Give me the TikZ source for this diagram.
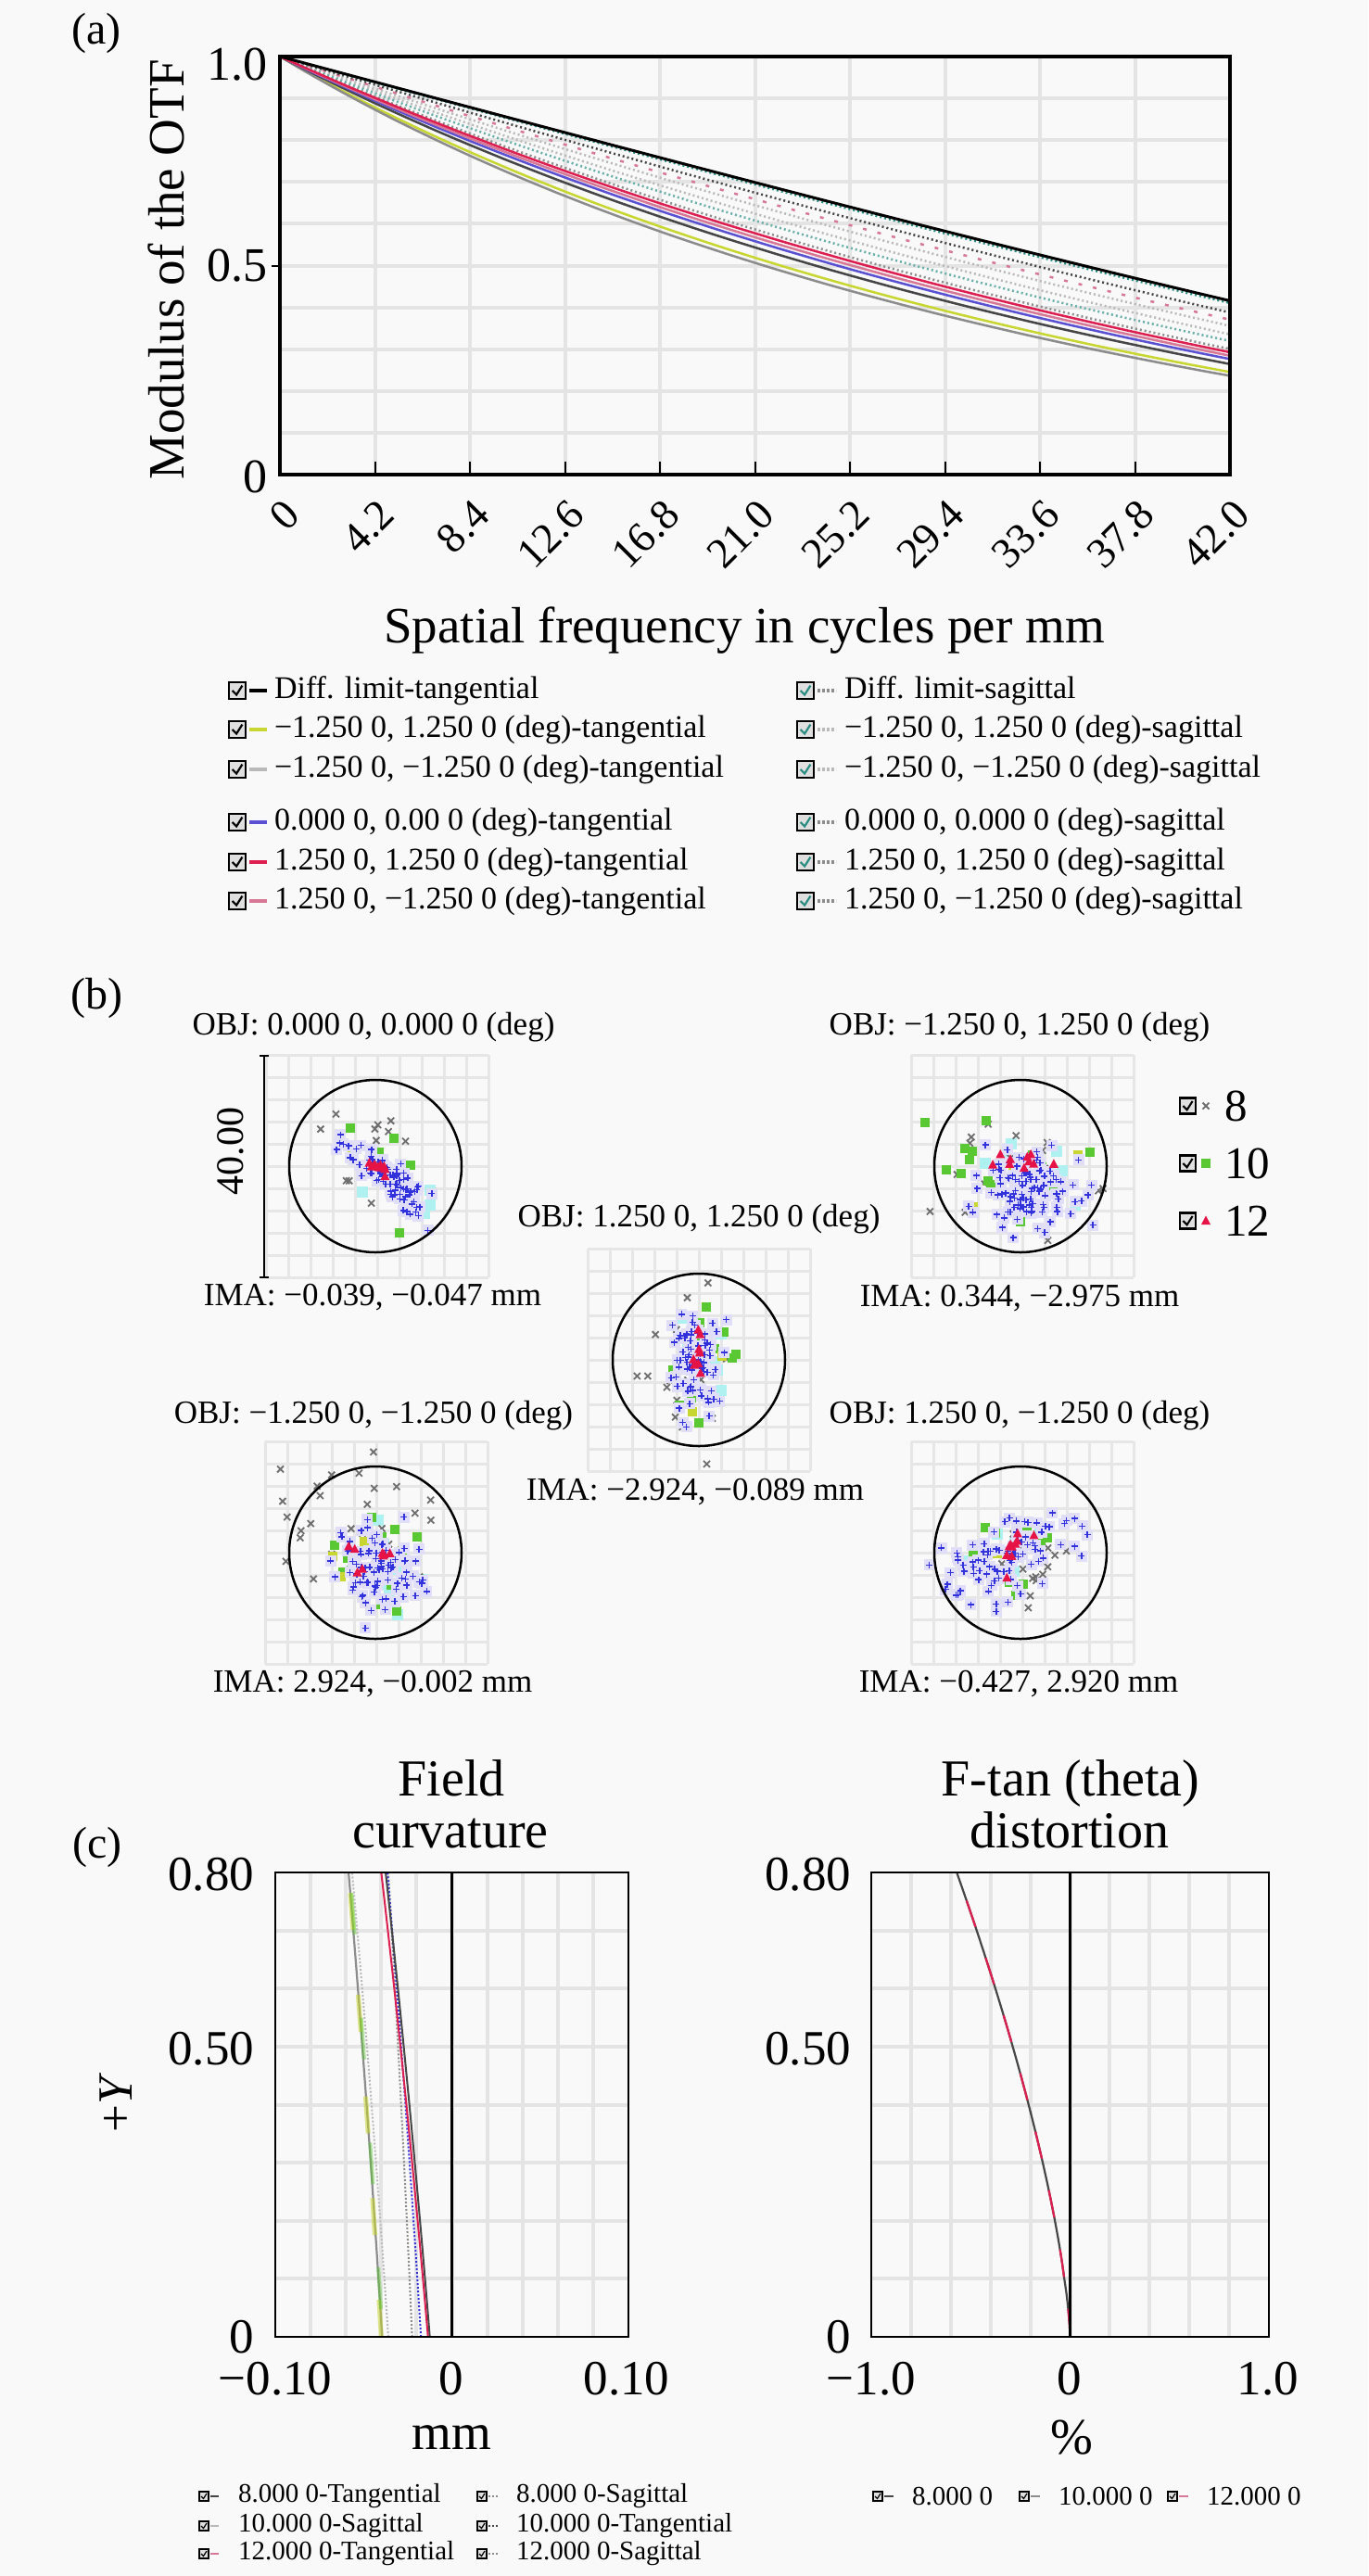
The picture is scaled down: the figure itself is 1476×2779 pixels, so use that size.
\documentclass[tikz,border=0pt]{standalone}
\usepackage{fontspec}
\setmainfont{Liberation Serif}
\usetikzlibrary{calc}
\definecolor{bgc}{RGB}{249,249,249}
\definecolor{gridc}{RGB}{228,228,228}
\definecolor{sgridc}{RGB}{230,230,230}
\definecolor{ylw}{RGB}{200,214,50}
\definecolor{mred}{RGB}{220,30,80}
\definecolor{mpink}{RGB}{215,120,150}
\definecolor{mblue}{RGB}{90,80,210}
\definecolor{mteal}{RGB}{40,140,130}
\definecolor{mgray}{RGB}{140,140,140}
\definecolor{lgray}{RGB}{185,185,185}
\definecolor{dgray}{RGB}{70,70,70}
\definecolor{sblue}{RGB}{50,50,220}
\definecolor{sgreen}{RGB}{90,200,50}
\definecolor{sred}{RGB}{230,20,70}
\definecolor{sgray}{RGB}{110,110,110}
\definecolor{scyan}{RGB}{175,240,240}
\definecolor{slav}{RGB}{225,222,250}
% spot markers
\newcommand\mkx[2]{\draw[sgray,line width=1.8pt] ({#1-3.5},{#2-3.5}) -- ({#1+3.5},{#2+3.5}) ({#1-3.5},{#2+3.5}) -- ({#1+3.5},{#2-3.5});}
\newcommand\mkp[2]{\draw[sblue,line width=1.4pt] ({#1-3.5},{#2}) -- ({#1+3.5},{#2}) ({#1},{#2-3.5}) -- ({#1},{#2+3.5});}
\newcommand\mklv[2]{\fill[slav] ({#1-6},{#2-6}) rectangle ({#1+6},{#2+6});}
\newcommand\mksq[2]{\fill[sgreen] ({#1-5},{#2-5}) rectangle ({#1+5},{#2+5});}
\newcommand\mkcy[2]{\fill[scyan] ({#1-6},{#2-6}) rectangle ({#1+6},{#2+6});}
\newcommand\mkyl[2]{\fill[ylw] ({#1-5},{#2-5}) rectangle ({#1+5},{#2+5});}
\newcommand\mktr[2]{\fill[sred] ({#1},{#2-5.5}) -- ({#1+5},{#2+4}) -- ({#1-5},{#2+4}) -- cycle;}
\newcommand\cloud[8]{%
  \pgfmathsetseed{#8}%
  \foreach \k in {1,...,#3}{%
    \pgfmathsetmacro\ua{(rand+rand+rand)/3*#4}%
    \pgfmathsetmacro\ub{(rand+rand+rand)/3*#5}%
    \pgfmathsetmacro\px{#1+\ua*cos(#6)-\ub*sin(#6)}%
    \pgfmathsetmacro\py{#2+\ua*sin(#6)+\ub*cos(#6)}%
    #7{\px}{\py}%
  }}
% blue cloud with lavender halo
\newcommand\bcloud[7]{\cloud{#1}{#2}{#3}{#4}{#5}{#6}{\mklv}{#7}\cloud{#1}{#2}{#3}{#4}{#5}{#6}{\mkp}{#7}}
\newcommand\spotgrid[2]{%
  \foreach \g in {0,...,10}{%
    \draw[sgridc, line width=3pt] ({#1-120+24*\g},{#2-120}) -- ({#1-120+24*\g},{#2+120});
    \draw[sgridc, line width=3pt] ({#1-120},{#2-120+24*\g}) -- ({#1+120},{#2-120+24*\g});}}
\newcommand\chkbox[4][black]{%
  \filldraw[fill=gray!25, draw=black, line width=#4*0.14] (#2,{#3-#4/2}) rectangle ({#2+#4},{#3+#4/2});
  \draw[#1, line width=#4*0.12] ({#2+#4*0.2},{#3}) -- ({#2+#4*0.45},{#3+#4*0.25}) -- ({#2+#4*0.8},{#3-#4*0.3});}
\newcommand\mtf[2]{\draw[#1] plot[domain=0:42, samples=43, smooth] (\x, {0.63662*(acos(\x/87.9)*0.0174533 - (\x/87.9)*sin(acos(\x/87.9)))/(1+#2*\x)});}
\newcommand\fcc[3]{\draw[#1] plot[domain=0:0.8, samples=17, smooth] ({#2+(#3-#2)*(0.85*\x/0.8+0.15*(\x/0.8)^2)},\x);}
\begin{document}
\begin{tikzpicture}[x=1pt,y=-1pt,
  every node/.style={inner sep=0pt, outer sep=0pt},
  fa/.style={font=\fontsize{48}{52}\selectfont},
  fytick/.style={font=\fontsize{52}{56}\selectfont},
  fxtick/.style={font=\fontsize{46}{50}\selectfont},
  ftitle/.style={font=\fontsize{55}{60}\selectfont},
  fctitle/.style={font=\fontsize{56}{60}\selectfont},
  fctick/.style={font=\fontsize{53}{56}\selectfont},
  fleg/.style={font=\fontsize{34}{38}\selectfont},
  fobj/.style={font=\fontsize{35}{38}\selectfont},
  fsleg/.style={font=\fontsize{49}{52}\selectfont},
  fcleg/.style={font=\fontsize{29}{32}\selectfont},
  gridln/.style={gridc, line width=4pt},
  frm/.style={black, line width=3.5pt},
  cfrm/.style={black, line width=2.5pt},
  dotln/.style={dash pattern=on 2pt off 3pt}
]
\fill[bgc] (0,0) rectangle (1476,2779);
\useasboundingbox (0,0) rectangle (1476,2779);

%================ (a) MTF =================
\node[fa] (la) at (104,36) {(a)};
\begin{scope}[shift={(302,512)}, x=24.4048pt, y=451pt]
  \foreach \i in {1,...,9} \draw[gridln] ({\i*4.2},0) -- ({\i*4.2},1);
  \foreach \j in {1,...,9} \draw[gridln] (0,{\j/10}) -- (42,{\j/10});
  \mtf{lgray, line width=2.5pt, dotln}{0.00402}
  \mtf{lgray, line width=2.5pt, dotln}{0.00569}
  \mtf{mpink, line width=2.5pt, dash pattern=on 4pt off 12pt}{0.0029}
  \mtf{mteal!70, line width=2.5pt, dotln}{0.00716}
  \mtf{mgray, line width=2.5pt, dotln}{0.00913}
  \mtf{dgray, line width=2.5pt, dotln}{0.00172}
  \mtf{mteal, line width=2.5pt, dotln}{0.0003}
  \mtf{ylw, line width=2.5pt}{0.01652}
  \mtf{mgray, line width=2.5pt}{0.01806}
  \mtf{dgray, line width=2.5pt}{0.01362}
  \mtf{mblue, line width=2.5pt}{0.01199}
  \mtf{mpink, line width=2.5pt}{0.01098}
  \mtf{mred, line width=2.5pt}{0.01003}
  \mtf{black, line width=3pt}{0}
  \draw[frm] (0,0) rectangle (42,1);
  \foreach \i in {1,...,9} \draw[black, line width=2pt] ({\i*4.2},0) -- ({\i*4.2},0.032);
  \draw[black, line width=2pt] (0,0.5) -- (-0.35,0.5);
\end{scope}
\node[fytick, anchor=east] (y10) at (288,70) {1.0};
\node[fytick, anchor=east] (y05) at (288,287) {0.5};
\node[fytick, anchor=east] (y00) at (288,514) {0};
\foreach \k/\lab in {0/0,1/4.2,2/8.4,3/12.6,4/16.8,5/21.0,6/25.2,7/29.4,8/33.6,9/37.8,10/42.0}
  \node[fxtick, rotate=45, anchor=east] (xt\k) at ({302+\k*102.5+13},548) {\lab};
\node[ftitle, anchor=base] (xtitle) at (803,693) {Spatial frequency in cycles per mm};
\node[ftitle, rotate=90, anchor=base] (ytitle) at (198,291) {Modulus of the OTF};

% legend (a)
\foreach \r/\yy/\col/\txt in {
  1/745/black/{Diff. limit-tangential},
  2/787/ylw/{−1.250 0, 1.250 0 (deg)-tangential},
  3/830/lgray/{−1.250 0, −1.250 0 (deg)-tangential},
  4/887/mblue/{0.000 0, 0.00 0 (deg)-tangential},
  5/930/mred/{1.250 0, 1.250 0 (deg)-tangential},
  6/972/mpink/{1.250 0, −1.250 0 (deg)-tangential}}{
  \chkbox{247}{\yy}{18}
  \draw[\col, line width=4pt] (269,\yy) -- (288,\yy);
  \node[fleg, anchor=west] (lgl\r) at (296,\yy) {\txt};
}
\foreach \r/\yy/\col/\txt in {
  1/745/mgray/{Diff. limit-sagittal},
  2/787/lgray/{−1.250 0, 1.250 0 (deg)-sagittal},
  3/830/lgray/{−1.250 0, −1.250 0 (deg)-sagittal},
  4/887/mgray/{0.000 0, 0.000 0 (deg)-sagittal},
  5/930/mgray/{1.250 0, 1.250 0 (deg)-sagittal},
  6/972/mgray/{1.250 0, −1.250 0 (deg)-sagittal}}{
  \chkbox[mteal]{860}{\yy}{18}
  \draw[\col, line width=4pt, dash pattern=on 3pt off 2pt] (882,\yy) -- (902,\yy);
  \node[fleg, anchor=west] (lgr\r) at (911,\yy) {\txt};
}

%================ (b) spot diagrams =================
\node[fa] (lb) at (104,1077) {(b)};
\spotgrid{407}{1258}
\spotgrid{1103}{1258}
\spotgrid{754}{1467}
\spotgrid{406}{1675}
\spotgrid{1103}{1675}
% TL
\cloud{418}{1268}{8}{80}{40}{42}{\mkcy}{14}
\cloud{398}{1255}{14}{100}{70}{42}{\mkx}{15}
\cloud{418}{1268}{14}{90}{50}{42}{\mksq}{13}
\cloud{400}{1250}{3}{90}{60}{42}{\mkyl}{16}
\bcloud{417}{1270}{90}{80}{25}{42}{11}
\cloud{404}{1256}{10}{25}{8}{42}{\mktr}{12}
% TR
\cloud{1101}{1265}{8}{90}{70}{0}{\mkcy}{21}
\cloud{1101}{1258}{18}{130}{110}{0}{\mkx}{22}
\cloud{1098}{1255}{16}{120}{100}{0}{\mksq}{23}
\cloud{1101}{1250}{3}{110}{90}{0}{\mkyl}{24}
\bcloud{1106}{1285}{110}{85}{65}{0}{25}
\cloud{1101}{1250}{10}{45}{12}{0}{\mktr}{26}
% M
\cloud{757}{1460}{8}{50}{90}{0}{\mkcy}{31}
\cloud{745}{1495}{22}{80}{200}{0}{\mkx}{32}
\cloud{760}{1460}{14}{55}{120}{0}{\mksq}{33}
\cloud{755}{1450}{3}{50}{90}{0}{\mkyl}{34}
\bcloud{750}{1470}{80}{40}{80}{0}{35}
\cloud{755}{1460}{8}{12}{40}{0}{\mktr}{36}
% BL
\cloud{410}{1680}{8}{80}{80}{0}{\mkcy}{41}
\cloud{390}{1650}{28}{130}{120}{0}{\mkx}{42}
\cloud{408}{1680}{16}{80}{80}{0}{\mksq}{43}
\cloud{400}{1670}{3}{100}{100}{0}{\mkyl}{44}
\bcloud{408}{1690}{90}{70}{75}{0}{45}
\cloud{405}{1675}{8}{40}{40}{0}{\mktr}{46}
% BR
\cloud{1090}{1683}{8}{90}{50}{-20}{\mkcy}{51}
\cloud{1110}{1695}{16}{80}{60}{0}{\mkx}{52}
\cloud{1092}{1680}{14}{80}{100}{-10}{\mksq}{53}
\cloud{1085}{1690}{3}{90}{45}{-20}{\mkyl}{54}
\bcloud{1088}{1680}{90}{110}{60}{-25}{55}
\cloud{1098}{1672}{10}{60}{30}{-25}{\mktr}{56}
% circles
\node[circle, draw=black, line width=2.5pt, minimum size=186pt] (c1) at (405,1258) {};
\node[circle, draw=black, line width=2.5pt, minimum size=186pt] (c2) at (1101,1258) {};
\node[circle, draw=black, line width=2.5pt, minimum size=186pt] (c3) at (754,1467) {};
\node[circle, draw=black, line width=2.5pt, minimum size=186pt] (c4) at (405,1675) {};
\node[circle, draw=black, line width=2.5pt, minimum size=186pt] (c5) at (1101,1675) {};
% scale bar
\coordinate (sbt) at (285,1139);
\coordinate (sbb) at (285,1378);
\draw[black, line width=2.5pt] (sbt) -- (sbb);
\draw[black, line width=2.5pt] ($(sbt)+(-5,0)$) -- ($(sbt)+(5,0)$);
\draw[black, line width=2.5pt] ($(sbb)+(-5,0)$) -- ($(sbb)+(5,0)$);
\node[font=\fontsize{42}{46}\selectfont, rotate=90] (sb) at (249,1242) {40.00};
% labels
\node[fobj] (o1) at (403,1108) {OBJ: 0.000 0, 0.000 0 (deg)};
\node[fobj] (i1) at (402,1400) {IMA: −0.039, −0.047 mm};
\node[fobj] (o2) at (1100,1108) {OBJ: −1.250 0, 1.250 0 (deg)};
\node[fobj] (i2) at (1100,1401) {IMA: 0.344, −2.975 mm};
\node[fobj] (o3) at (754,1315) {OBJ: 1.250 0, 1.250 0 (deg)};
\node[fobj] (i3) at (750,1610) {IMA: −2.924, −0.089 mm};
\node[fobj] (o4) at (403,1527) {OBJ: −1.250 0, −1.250 0 (deg)};
\node[fobj] (i4) at (402,1817) {IMA: 2.924, −0.002 mm};
\node[fobj] (o5) at (1100,1527) {OBJ: 1.250 0, −1.250 0 (deg)};
\node[fobj] (i5) at (1099,1817) {IMA: −0.427, 2.920 mm};
% spot legend
\chkbox{1273}{1193}{17}
\mkx{1301}{1193}
\node[fsleg, anchor=west] (s8) at (1321,1193) {8};
\chkbox{1273}{1255}{17}
\mksq{1301}{1255}
\node[fsleg, anchor=west] (s10) at (1321,1255) {10};
\chkbox{1273}{1317}{17}
\mktr{1301}{1317}
\node[fsleg, anchor=west] (s12) at (1321,1317) {12};

%================ (c) =================
\node[fa] (lc) at (105,1993) {(c)};
\node[fctitle, anchor=base] (fc1) at (487,1937) {Field};
\node[fctitle, anchor=base] (fc2) at (486,1993) {curvature};
\node[fctitle, anchor=base] (dt1) at (1155,1937) {F-tan (theta)};
\node[fctitle, anchor=base] (dt2) at (1154,1993) {distortion};
% field curvature plot
\begin{scope}[shift={(487.5,2521)}, x=1905pt, y=626.25pt]
  \foreach \i in {1,...,9} \draw[gridln] ({-0.1+0.02*\i},0) -- ({-0.1+0.02*\i},0.8);
  \foreach \j in {1,...,7} \draw[gridln] (-0.1,{\j/10}) -- (0.1,{\j/10});
  \fcc{lgray, line width=2pt, dash pattern=on 2pt off 2pt}{-0.036}{-0.0565}
  \fcc{mgray, line width=2.2pt}{-0.0395}{-0.0585}
  \fcc{ylw, line width=5pt, opacity=0.55, dash pattern=on 40pt off 70pt}{-0.0400}{-0.0585}
  \fcc{sgreen, line width=4pt, opacity=0.45, dash pattern=on 0pt off 30pt on 45pt off 60pt}{-0.0392}{-0.0578}
  \fcc{mgray, line width=2pt, dash pattern=on 2pt off 2pt}{-0.0225}{-0.036}
  \fcc{sblue, line width=2pt, dash pattern=on 2pt off 2pt}{-0.0175}{-0.0365}
  \fcc{dgray, line width=2pt}{-0.0125}{-0.0375}
  \fcc{mred, line width=2pt}{-0.0135}{-0.040}
  \draw[cfrm] (0,0) -- (0,0.8);
  \draw[cfrm] (-0.1,0) rectangle (0.1,0.8);
\end{scope}
% distortion plot
\begin{scope}[shift={(1154.5,2521)}, x=214.5pt, y=626.25pt]
  \foreach \i in {1,...,9} \draw[gridln] ({-1+0.2*\i},0) -- ({-1+0.2*\i},0.8);
  \foreach \j in {1,...,7} \draw[gridln] (-1,{\j/10}) -- (1,{\j/10});
  \draw[dgray, line width=2.2pt] (0,0) -- plot[domain=0.02:0.8, samples=30, smooth] ({-0.57*exp(1.45*ln(\x/0.8))},\x);
  \draw[mred, line width=2.2pt, dash pattern=on 30pt off 35pt] (0,0) -- plot[domain=0.02:0.8, samples=30, smooth] ({-0.57*exp(1.45*ln(\x/0.8))},\x);
  \draw[cfrm] (0,0) -- (0,0.8);
  \draw[cfrm] (-1,0) rectangle (1,0.8);
\end{scope}
% tick labels
\node[fctick, anchor=east] (fy80) at (274,2022) {0.80};
\node[fctick, anchor=east] (fy50) at (274,2210) {0.50};
\node[fctick, anchor=east] (fy0) at (274,2521) {0};
\node[fctick, anchor=east] (dy80) at (918,2022) {0.80};
\node[fctick, anchor=east] (dy50) at (918,2210) {0.50};
\node[fctick, anchor=east] (dy0) at (918,2521) {0};
\node[fctick] (fx1) at (297,2566) {−0.10};
\node[fctick] (fx2) at (487,2566) {0};
\node[fctick] (fx3) at (676,2566) {0.10};
\node[fctick] (dx1) at (940,2566) {−1.0};
\node[fctick] (dx2) at (1154,2566) {0};
\node[fctick] (dx3) at (1368,2566) {1.0};
\node[ftitle] (mm) at (487,2630) {mm};
\node[ftitle] (pct) at (1156,2630) {\%};
\node[fctick, rotate=90] (plusy) at (125,2268) {+\textit{Y}};
% legend (c)
\foreach \r/\yy/\col/\txt in {1/2693/dgray/{8.000 0-Tangential},2/2725/lgray/{10.000 0-Sagittal},3/2755/mpink/{12.000 0-Tangential}}{
  \chkbox{215}{\yy}{10}
  \draw[\col, line width=2.5pt] (227,\yy) -- (236,\yy);
  \node[fcleg, anchor=west] (cl\r) at (257,\yy) {\txt};
}
\foreach \r/\yy/\col/\txt in {1/2693/mgray/{8.000 0-Sagittal},2/2725/dgray/{10.000 0-Tangential},3/2755/mgray/{12.000 0-Sagittal}}{
  \chkbox{515}{\yy}{10}
  \draw[\col, line width=2.5pt, dash pattern=on 2pt off 2pt] (527,\yy) -- (537,\yy);
  \node[fcleg, anchor=west] (cr\r) at (557,\yy) {\txt};
}
\foreach \r/\xx/\col/\txt in {1/942/dgray/{8.000 0},2/1100/mgray/{10.000 0},3/1260/mpink/{12.000 0}}{
  \chkbox{\xx}{2693}{10}
  \draw[\col, line width=2.5pt] ({\xx+12},2693) -- ({\xx+22},2693);
  \node[fcleg, anchor=west] (dl\r) at ({\xx+42},2693) {\txt};
}
\end{tikzpicture}
\end{document}
